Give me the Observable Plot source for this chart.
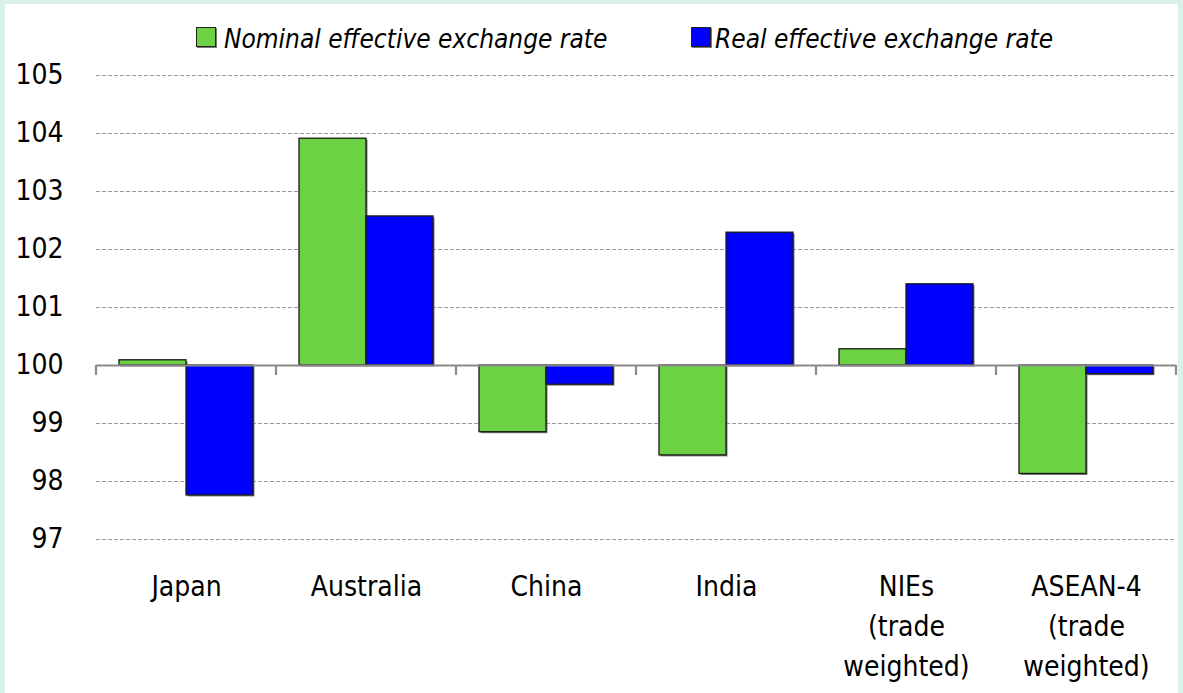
<!DOCTYPE html>
<html><head><meta charset="utf-8">
<script src="https://cdn.jsdelivr.net/npm/d3@7"></script>
<script src="https://cdn.jsdelivr.net/npm/@observablehq/plot@0.6"></script>
<style>
html,body{margin:0;padding:0;}
body{width:1183px;height:693px;background:#daf1e9;position:relative;overflow:hidden;font-family:"Liberation Sans Narrow","Arial Narrow","DejaVu Sans Condensed",sans-serif;color:#000;}
#panel{position:absolute;left:5px;top:4px;width:1173px;height:720px;background:#fff;}
.sw{position:absolute;top:27px;width:18px;height:18px;border:1px solid #222;box-shadow:1px 1px 0 #777;}
.lt{position:absolute;top:26px;font-size:26px;line-height:26px;font-style:italic;white-space:nowrap;}
#chart{position:absolute;left:0;top:60px;}
</style></head><body>
<div id="panel"></div>
<div id="legend"></div>
<div id="chart"></div>
<script>
const categories = ["Japan","Australia","China","India","NIEs","ASEAN-4"];
const categoryLabels = ["Japan","Australia","China","India","NIEs\n(trade\nweighted)","ASEAN-4\n(trade\nweighted)"];
const series = ["Nominal effective exchange rate","Real effective exchange rate"];
const nominal = [100.09, 103.91, 98.85, 98.45, 100.28, 98.13];
const real = [97.76, 102.57, 99.67, 102.29, 101.40, 99.85];
const colors = ["#6cd243","#0000ff"];
const yTicks = [97,98,99,100,101,102,103,104,105];
const gridTicks = [97,98,99,101,102,103,104,105];
const baseline = 100;

const data = [];
categories.forEach((c,i)=>{
  data.push({cat:c, series:series[0], value:nominal[i]});
  data.push({cat:c, series:series[1], value:real[i]});
});

// legend
const legend = document.getElementById("legend");
const legPos = [[196,224],[691,715]];
series.forEach((s,i)=>{
  const sw = document.createElement("div");
  sw.className="sw"; sw.style.left=legPos[i][0]+"px"; sw.style.background=colors[i];
  legend.appendChild(sw);
  const t = document.createElement("div");
  t.className="lt"; t.style.left=legPos[i][1]+"px"; t.textContent=s;
  legend.appendChild(t);
});

const font = '"Liberation Sans Narrow","Arial Narrow","DejaVu Sans Condensed",sans-serif';
const plot = Plot.plot({
  width: 1183,
  height: 633,
  marginLeft: 96,
  marginRight: 7,
  marginTop: 15,
  marginBottom: 154,
  style: {background:"transparent", fontFamily: font, color:"#000", overflow:"visible"},
  fx: {domain: categories, padding: 0, axis: null, label: null},
  x: {domain: series, paddingInner: 0, paddingOuter: 0.343, axis: null, label: null},
  y: {domain: [97,105], axis: null, label: null},
  color: {domain: series, range: colors},
  marks: [
    Plot.gridY(gridTicks, {stroke:"#9a9a9a", strokeOpacity:1, strokeWidth:1, strokeDasharray:"4,2"}),
    Plot.axisY(yTicks, {tickSize:0, tickPadding:33, fontSize:28, tickFormat: d=>String(d), label:null}),
    Plot.barY(data, {fx:"cat", x:"series", y1: baseline, y2:"value", fill:"#777", dx:1.5, dy:1.5}),
    Plot.barY(data, {fx:"cat", x:"series", y1: baseline, y2:"value", fill:"series", stroke:"#1a1a1a", strokeWidth:1.3}),
    Plot.ruleY([baseline], {stroke:"#8a8a8a", strokeWidth:2.2}),
    Plot.text(categories, {fx: d=>d, text:(d,i)=>categoryLabels[i], frameAnchor:"bottom", lineAnchor:"top", dy:28, fontSize:28, lineHeight:1.43, fill:"#000"})
  ]
});
document.getElementById("chart").appendChild(plot);

// boundary tick marks on the 100 baseline, positioned with Plot's own scales
const fxs = plot.scale("fx"), ys = plot.scale("y");
const y0 = ys.apply(baseline);
const edges = categories.map(c=>fxs.apply(c)).concat([fxs.apply(categories[categories.length-1]) + fxs.bandwidth]);
d3.select(plot).append("g").selectAll("line").data(edges).join("line")
  .attr("x1", d=>d).attr("x2", d=>d).attr("y1", y0).attr("y2", y0+10)
  .attr("stroke","#8a8a8a").attr("stroke-width",2.2);
</script>
</body></html>
